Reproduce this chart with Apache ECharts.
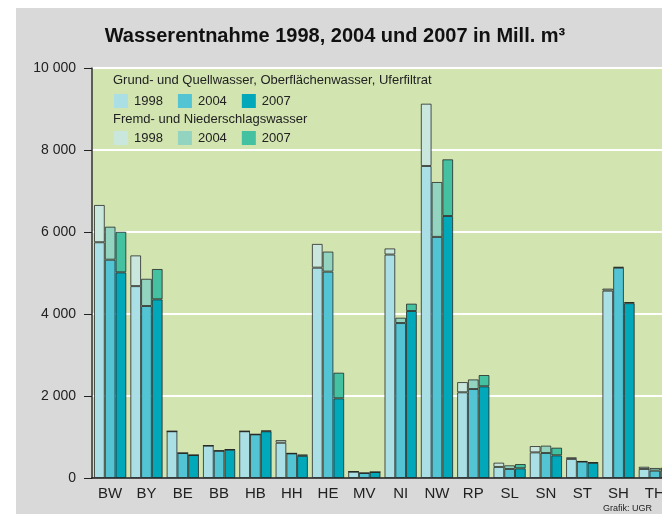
<!DOCTYPE html>
<html>
<head>
<meta charset="utf-8">
<script src="https://cdn.jsdelivr.net/npm/echarts@6/dist/echarts.min.js"></script>
<style>
  html, body { margin: 0; padding: 0; background: #fff; }
  #chart { width: 662px; height: 514px; }
</style>
</head>
<body>
<div id="chart"></div>
<script>
// Länder
const laender = ["BW", "BY", "BE", "BB", "HB", "HH", "HE", "MV", "NI", "NW", "RP", "SL", "SN", "ST", "SH", "TH"];

// Grund- und Quellwasser, Oberflächenwasser, Uferfiltrat (Mill. m³)
const grund1998 = [5750, 4680, 1140, 790, 1140, 860, 5130, 155, 5450, 7610, 2090, 270, 625, 465, 4570, 220];
const grund2004 = [5325, 4195, 610, 665, 1065, 600, 5033, 122, 3780, 5880, 2170, 220, 610, 400, 5130, 180];
const grund2007 = [5016, 4358, 560, 690, 1140, 540, 1943, 146, 4073, 6390, 2236, 236, 553, 370, 4265, 190];

// Fremd- und Niederschlagswasser (Mill. m³)
const fremd1998 = [910, 750, 0, 0, 0, 65, 580, 0, 150, 1520, 250, 105, 155, 40, 50, 55];
const fremd2004 = [805, 665, 0, 0, 0, 0, 490, 0, 130, 1340, 235, 90, 180, 6, 16, 65];
const fremd2007 = [990, 740, 0, 10, 15, 35, 626, 0, 180, 1383, 276, 105, 187, 12, 28, 60];

const yTicks = [0, 2000, 4000, 6000, 8000, 10000];

const chart = echarts.init(document.getElementById("chart"));

const txt = "#222";
const font = "Liberation Sans, Arial, sans-serif";

function bar(name, stack, data, color) {
  return {
    name: name,
    type: "bar",
    stack: stack,
    data: data,
    barGap: "0%",
    barCategoryGap: "11%",
    itemStyle: { color: color, borderColor: "rgba(30,30,30,0.75)", borderWidth: 1 },
    emphasis: { disabled: true }
  };
}

function legend(names, top) {
  return {
    data: names,
    left: 114, top: top,
    itemWidth: 14, itemHeight: 14, itemGap: 15,
    icon: "rect",
    itemStyle: { borderWidth: 0 },
    formatter: n => n.slice(1),
    textStyle: { fontSize: 13, color: txt, padding: [0, 0, 0, 1] },
    selectedMode: false, padding: 0
  };
}

chart.setOption({
  backgroundColor: "#fff",
  animation: false,
  textStyle: { fontFamily: font },
  graphic: [
    { type: "rect", z: -10, shape: { x: 16, y: 8, width: 700, height: 520 }, style: { fill: "#d9d9d9" } },
    { type: "text", style: { text: "Wasserentnahme 1998, 2004 und 2007 in Mill. m³", x: 335, y: 36, textAlign: "center", textVerticalAlign: "middle", font: "bold 20px " + font, fill: "#111" } },
    { type: "text", z: 100, style: { text: "Grund- und Quellwasser, Oberflächenwasser, Uferfiltrat", x: 113, y: 80, textVerticalAlign: "middle", font: "13px " + font, fill: txt } },
    { type: "text", z: 100, style: { text: "Fremd- und Niederschlagswasser", x: 113, y: 119, textVerticalAlign: "middle", font: "13px " + font, fill: txt } },
    { type: "text", z: 100, style: { text: "Grafik: UGR", x: 603, y: 509, textVerticalAlign: "middle", font: "9px " + font, fill: txt } }
  ],
  legend: [
    legend(["G1998", "G2004", "G2007"], 94),
    legend(["F1998", "F2004", "F2007"], 131)
  ],
  grid: {
    left: 92, top: 68, width: 581, bottom: 36,
    outerBoundsMode: "none",
    show: true, backgroundColor: "#d2e4b0", borderWidth: 0
  },
  xAxis: {
    type: "category",
    data: laender,
    axisLine: { lineStyle: { color: "#111", width: 1.5 } },
    axisTick: { show: false },
    axisLabel: { fontSize: 15, color: txt, margin: 8 }
  },
  yAxis: {
    type: "value",
    min: yTicks[0], max: yTicks[yTicks.length - 1], interval: 2000,
    axisLine: { show: true, lineStyle: { color: "#333", width: 1.5 } },
    axisTick: { show: true, length: 8, lineStyle: { color: "#222" } },
    splitLine: { lineStyle: { color: "#fff", width: 2 } },
    axisLabel: {
      fontSize: 14, color: txt, margin: 16,
      formatter: v => String(v).replace(/\B(?=(\d{3})+(?!\d))/g, " ")
    }
  },
  series: [
    bar("G1998", "a", grund1998, "#aadfe6"),
    bar("F1998", "a", fremd1998, "#c9e7dd"),
    bar("G2004", "b", grund2004, "#52c4d4"),
    bar("F2004", "b", fremd2004, "#93d4c0"),
    bar("G2007", "c", grund2007, "#00a8ba"),
    bar("F2007", "c", fremd2007, "#44c1a1")
  ]
});
</script>
</body>
</html>
